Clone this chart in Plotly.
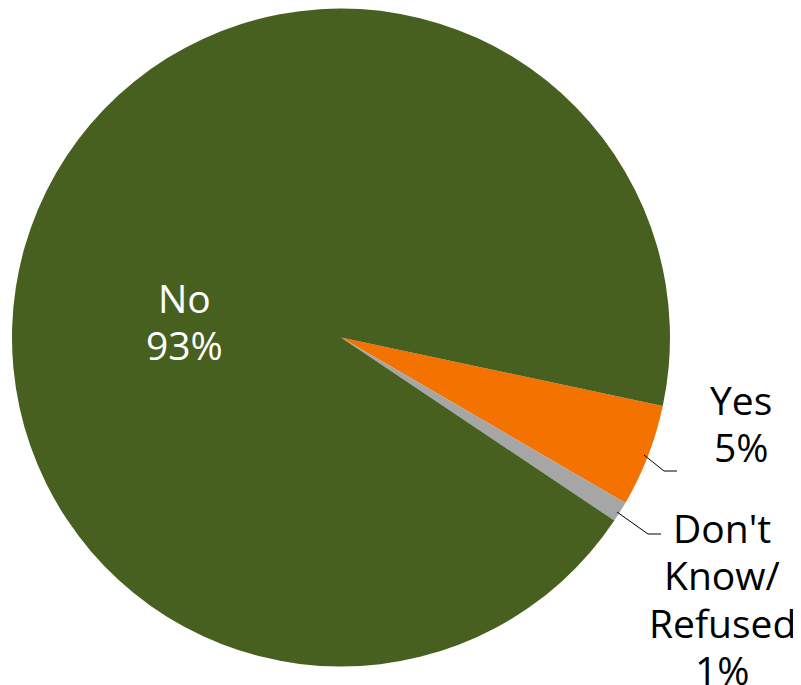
import plotly.graph_objects as go

# Data (clockwise from the Yes slice)
labels = ["Yes", "Don't Know/Refused", "No"]
label_lines = [["Yes"], ["Don't", "Know/", "Refused"], ["No"]]
values = [5, 1, 93]
pct_labels = ["5%", "1%", "93%"]
colors = ["#F47200", "#A6A6A6", "#47601F"]

# page body adds an 8px margin, so the figure is drawn 8px in from the window corner
OFF = 8
W, H = 801 - OFF, 685 - OFF


def px(x, y):
    """window pixel -> paper coords"""
    return (x - OFF) / W, (685 - y) / H


# pie placement: centre (341, 337) in the window, radius 329 px
cx, cy, r = 341, 337.5, 329
x0, y1 = px(cx - r, cy - r)
x1, y0 = px(cx + r, cy + r)

fig = go.Figure()
fig.add_trace(go.Pie(
    labels=labels,
    values=values,
    sort=False,
    direction="clockwise",
    rotation=102,
    textinfo="none",
    hoverinfo="label+text",
    text=pct_labels,
    marker=dict(colors=colors, line=dict(width=0)),
    domain=dict(x=[x0, x1], y=[y0, y1]),
    showlegend=False,
))

# labels: one annotation per line so the line spacing can follow the reference
# (x centre, y of first line's cap centre, text colour)
label_pos = [(741, 398.5, "black"), (722, 527, "black"), (184, 296.5, "white")]
LINE = 47.3
annotations = []
for lines, pct, (lx, ly, col) in zip(label_lines, pct_labels, label_pos):
    for i, t in enumerate(lines + [pct]):
        ax, ay = px(lx, ly + i * LINE)
        annotations.append(dict(
            x=ax, y=ay, xref="paper", yref="paper",
            text=t, showarrow=False,
            xanchor="center", yanchor="middle",
            height=44, borderpad=0,
            font=dict(size=39, color=col, family="Open Sans"),
        ))

# leader lines
leaders = [
    [(644, 455), (664, 471), (677, 471)],
    [(617, 512), (648, 534), (661, 534)],
]
shapes = []
for pts in leaders:
    for (a, b) in zip(pts[:-1], pts[1:]):
        xa, ya = px(*a)
        xb, yb = px(*b)
        shapes.append(dict(type="line", xref="paper", yref="paper",
                           x0=xa, y0=ya, x1=xb, y1=yb,
                           line=dict(color="black", width=1)))

fig.update_layout(
    width=W, height=H,
    margin=dict(l=0, r=0, t=0, b=0),
    paper_bgcolor="white",
    plot_bgcolor="white",
    annotations=annotations,
    shapes=shapes,
)

fig.write_html("out.html")
